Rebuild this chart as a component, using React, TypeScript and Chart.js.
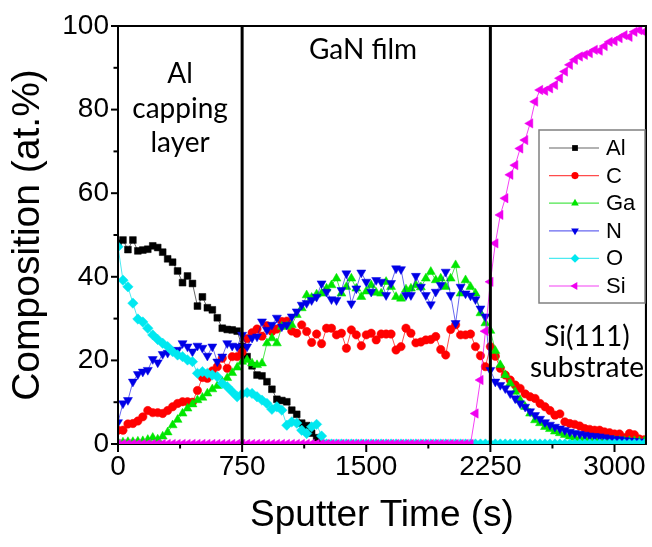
import React, { useEffect, useRef } from "react";
import { Chart, registerables } from "chart.js";

Chart.register(...registerables);

// ---------- DATA ----------
const times = [
  0, 30, 60, 90, 120, 150, 180, 210, 240, 270, 300, 330, 360, 390, 420, 450, 480, 510, 540, 570,
  600, 630, 660, 690, 720, 750, 780, 810, 840, 870, 900, 930, 960, 990, 1020, 1050, 1080, 1110, 1140, 1170,
  1200, 1230, 1260, 1290, 1320, 1350, 1380, 1410, 1440, 1470, 1500, 1530, 1560, 1590, 1620, 1650, 1680, 1710, 1740, 1770,
  1800, 1830, 1860, 1890, 1920, 1950, 1980, 2010, 2040, 2070, 2100, 2130, 2160, 2190, 2220, 2250, 2280, 2310, 2340, 2370,
  2400, 2430, 2460, 2490, 2520, 2550, 2580, 2610, 2640, 2670, 2700, 2730, 2760, 2790, 2820, 2850, 2880, 2910, 2940, 2970,
  3000, 3030, 3060, 3090, 3120, 3150, 3180,
];

const alValues = [
  48.0, 48.8, 46.5, 48.8, 46.2, 46.4, 46.6, 47.4, 47.0, 45.9,
  44.3, 43.5, 41.4, 38.6, 40.2, 38.4, 33.0, 35.2, 32.6, 32.1,
  30.2, 27.7, 27.4, 27.3, 27.0, 23.3, 20.9, 18.7, 16.5, 16.3,
  14.9, 13.1, 10.7, 10.4, 10.1, 8.1, 7.1, 5.0, 4.4, 2.6,
  1.5, 0, 0,
];

const cValues = [
  3.3, 3.3, 4.8, 4.9, 5.5, 6.5, 8.0, 7.5, 7.5, 7.3,
  8.0, 8.9, 9.7, 10.1, 10.1, 10.0, 12.8, 15.9, 15.7, 17.5,
  18.5, 20.5, 18.1, 20.9, 20.9, 22.0, 25.2, 26.6, 27.5, 25.8,
  28.3, 26.9, 27.5, 29.3, 29.4, 27.0, 26.5, 28.5, 26.9, 24.3,
  26.3, 24.0, 27.7, 27.7, 26.1, 26.5, 22.9, 27.3, 26.1, 23.5,
  26.1, 26.5, 24.9, 26.3, 26.3, 26.3, 22.5, 23.3, 27.7, 26.5,
  24.2, 24.4, 24.9, 25.0, 25.7, 22.6, 21.3, 27.4, 28.5, 26.1,
  26.1, 26.3, 23.3, 21.1, 18.5, 23.3, 21.0, 18.1, 16.5, 15.3,
  14.1, 13.3, 12.0, 11.3, 10.9, 9.7, 8.9, 8.0, 6.9, 7.2,
  5.3, 4.9, 4.7, 4.3, 3.7, 3.5, 3.3, 3.3, 2.9, 2.7,
  2.4, 2.4, 1.5, 2.5, 2.2, 1.2, 1.0,
];

const gaValues = [
  0.4, 0.4, 0.5, 0.5, 0.6, 0.7, 1.0, 1.5, 1.1, 1.8,
  2.8, 4.5, 5.8, 7.3, 8.5, 9.5, 10.5, 11.1, 12.1, 13.1,
  13.9, 14.9, 15.8, 17.0, 18.3, 19.7, 20.1, 19.3, 18.9, 19.3,
  24.1, 25.3, 24.1, 28.1, 28.1, 28.5, 30.9, 32.5, 35.6, 35.0,
  35.8, 36.0, 37.2, 38.0, 39.6, 36.0, 37.6, 39.6, 37.2, 35.2,
  36.5, 38.0, 36.2, 36.0, 38.8, 37.6, 35.2, 34.8, 37.0, 37.2,
  38.0, 37.5, 39.6, 41.2, 39.2, 39.6, 37.6, 39.6, 42.8, 36.0,
  39.2, 37.6, 36.0, 31.3, 28.9, 27.1, 22.3, 18.9, 16.5, 14.5,
  12.5, 10.5, 8.9, 7.3, 5.7, 5.0, 4.1, 3.6, 3.0, 2.6,
  2.2, 1.8, 1.5, 1.3, 1.2, 1.1, 1.0, 0.9, 0.9, 0.8,
  0.8, 0.8, 0.7, 0.7, 0.7, 0.6, 0.6,
];

const nValues = [
  5.2, 9.7, 10.5, 14.9, 16.7, 17.3, 17.7, 20.3, 19.5, 21.5,
  21.8, 22.3, 22.5, 24.1, 23.3, 22.1, 23.5, 23.0, 21.1, 23.3,
  19.7, 20.9, 24.1, 23.5, 23.3, 26.1, 23.3, 25.4, 25.7, 29.3,
  27.3, 28.5, 30.2, 28.1, 28.5, 30.5, 31.7, 33.3, 33.7, 34.4,
  35.2, 38.4, 36.4, 34.6, 34.4, 36.8, 40.8, 33.6, 37.2, 41.0,
  38.8, 36.4, 39.2, 38.8, 35.6, 38.5, 42.0, 41.8, 35.6, 35.6,
  40.2, 37.6, 35.6, 33.4, 36.4, 38.0, 41.2, 35.6, 28.9, 37.6,
  36.0, 35.5, 34.6, 32.4, 30.5, 17.7, 14.9, 14.1, 13.3, 12.1,
  10.9, 9.7, 8.9, 7.8, 6.9, 6.0, 5.2, 4.6, 4.1, 3.7,
  3.3, 2.9, 2.6, 2.4, 2.2, 2.0, 1.9, 1.8, 1.6, 1.4,
  1.2, 1.1, 0.9, 0.8, 0.7, 0.6, 0.5,
];

const oValues = [
  47.2, 39.2, 37.6, 33.7, 29.9, 29.2, 27.7, 26.1, 25.0, 24.1,
  23.3, 22.1, 21.3, 20.9, 20.1, 19.7, 16.9, 17.3, 16.9, 16.5,
  16.1, 14.5, 13.7, 12.5, 11.3, 12.0, 12.3, 12.1, 11.3, 10.5,
  9.7, 8.3, 8.9, 8.1, 4.5, 5.3, 5.0, 3.3, 2.5, 4.1,
  4.7, 1.9, 0, 0, 0, 0, 0, 0, 0, 0,
  0, 0, 0, 0, 0, 0, 0, 0, 0, 0,
  0, 0, 0, 0, 0, 0, 0, 0, 0, 0,
  0, 0, 0, 0, 0, 0, 0, 0, 0, 0,
  0, 0, 0, 0, 0, 0, 0, 0, 0, 0,
  0, 0, 0, 0, 0, 0, 0, 0, 0, 0,
  0, 0, 0, 0, 0, 0, 0,
];

const siValues = [
  0, 0, 0, 0, 0, 0, 0, 0, 0, 0,
  0, 0, 0, 0, 0, 0, 0, 0, 0, 0,
  0, 0, 0, 0, 0, 0, 0, 0, 0, 0,
  0, 0, 0, 0, 0, 0, 0, 0, 0, 0,
  0, 0, 0, 0, 0, 0, 0, 0, 0, 0,
  0, 0, 0, 0, 0, 0, 0, 0, 0, 0,
  0, 0, 0, 0, 0, 0, 0, 0, 0, 0,
  0, 0, 7.3, 15.3, 27.0, 38.8, 48.0, 54.8, 58.8, 64.4,
  66.7, 70.7, 72.7, 76.7, 81.9, 84.7, 84.5, 85.1, 85.9, 87.5,
  89.1, 90.7, 91.9, 92.7, 93.1, 93.5, 94.3, 94.1, 95.2, 96.2,
  96.4, 97.1, 97.8, 97.4, 98.6, 99.0, 98.6,
];

const seriesNames = ["Al", "C", "Ga", "N", "O", "Si"];
const seriesValues = [alValues, cValues, gaValues, nValues, oValues, siValues];

const xMajorTicks = [0, 750, 1500, 2250, 3000];
const xMinorTicks = [375, 1125, 1875, 2625];
const yMajorTicks = [0, 20, 40, 60, 80, 100];
const yMinorTicks = [10, 30, 50, 70, 90];
const regionBoundaries = [750, 2250];

// ---------- STYLE ----------
const SANS = '"Liberation Sans", Arial, Helvetica, sans-serif';
const CAL = 'Lato, "Open Sans", sans-serif';

const seriesStyles = [
  { color: "#000000", line: "rgba(0,0,0,0.6)", shape: "rect", rotation: 0, radius: 4.8 },
  { color: "#ff0000", line: "rgba(255,0,0,0.7)", shape: "circle", rotation: 0, radius: 4.2 },
  { color: "#00e600", line: "rgba(0,220,0,0.7)", shape: "triangle", rotation: 0, radius: 5.2 },
  { color: "#0000e6", line: "rgba(0,0,230,0.6)", shape: "triangle", rotation: 180, radius: 5.2 },
  { color: "#00e8f0", line: "rgba(0,225,235,0.7)", shape: "rectRot", rotation: 0, radius: 5.2 },
  { color: "#f000f0", line: "rgba(240,0,240,0.75)", shape: "triangle", rotation: 270, radius: 5.4 },
];

function drawMarker(ctx: CanvasRenderingContext2D, st: any, x: number, y: number, r: number) {
  ctx.fillStyle = st.color;
  ctx.beginPath();
  if (st.shape === "rect") {
    const s = r * Math.SQRT2;
    ctx.rect(x - s / 2, y - s / 2, s, s);
  } else if (st.shape === "circle") {
    ctx.arc(x, y, r, 0, Math.PI * 2);
  } else if (st.shape === "rectRot") {
    ctx.moveTo(x, y - r);
    ctx.lineTo(x + r, y);
    ctx.lineTo(x, y + r);
    ctx.lineTo(x - r, y);
    ctx.closePath();
  } else {
    let a = (st.rotation * Math.PI) / 180;
    for (let k = 0; k < 3; k++) {
      const px = x + Math.sin(a) * r;
      const py = y - Math.cos(a) * r;
      if (k === 0) ctx.moveTo(px, py);
      else ctx.lineTo(px, py);
      a += (2 * Math.PI) / 3;
    }
    ctx.closePath();
  }
  ctx.fill();
}

export default function App() {
  const ref = useRef<HTMLCanvasElement>(null);

  useEffect(() => {
    const canvas = ref.current;
    if (!canvas) return;

    const datasets = seriesValues.map((vals, idx) => {
      const st = seriesStyles[idx];
      return {
        label: seriesNames[idx],
        data: vals.map((v, i) => ({ x: times[i], y: v })),
        borderColor: st.line,
        backgroundColor: st.color,
        borderWidth: 1,
        pointStyle: st.shape,
        pointRotation: st.rotation,
        pointRadius: st.radius,
        pointBackgroundColor: st.color,
        pointBorderColor: st.color,
        pointBorderWidth: 0.5,
        tension: 0,
        fill: false,
        clip: 0,
        order: seriesNames.length - idx,
      };
    });

    const decorPlugin = {
      id: "decor",
      beforeDatasetsDraw(chart: any) {
        const { ctx, chartArea: a, scales } = chart;
        const xs = scales.x;
        const ys = scales.y;
        ctx.save();
        ctx.strokeStyle = "#000";
        // frame
        ctx.lineWidth = 2;
        ctx.strokeRect(a.left, a.top, a.right - a.left, a.bottom - a.top);
        // tick marks
        const tick = (x1: number, y1: number, x2: number, y2: number) => {
          ctx.beginPath();
          ctx.moveTo(x1, y1);
          ctx.lineTo(x2, y2);
          ctx.stroke();
        };
        for (const v of xMajorTicks) {
          const px = xs.getPixelForValue(v);
          tick(px, a.bottom, px, a.bottom + 8);
        }
        for (const v of xMinorTicks) {
          const px = xs.getPixelForValue(v);
          tick(px, a.bottom, px, a.bottom + 4.5);
        }
        for (const v of yMajorTicks) {
          const py = ys.getPixelForValue(v);
          tick(a.left, py, a.left - 7, py);
        }
        for (const v of yMinorTicks) {
          const py = ys.getPixelForValue(v);
          tick(a.left, py, a.left - 4.5, py);
        }
        ctx.restore();
      },
      afterDatasetsDraw(chart: any) {
        const { ctx, chartArea: a, scales } = chart;
        const xs = scales.x;
        ctx.save();

        // region boundaries
        ctx.strokeStyle = "#000";
        ctx.lineWidth = 3;
        for (const b of regionBoundaries) {
          const px = xs.getPixelForValue(b);
          ctx.beginPath();
          ctx.moveTo(px, a.top);
          ctx.lineTo(px, a.bottom);
          ctx.stroke();
        }
        // left / top / right edges over data
        ctx.lineWidth = 2;
        ctx.beginPath();
        ctx.moveTo(a.left, a.bottom);
        ctx.lineTo(a.left, a.top);
        ctx.lineTo(a.right, a.top);
        ctx.lineTo(a.right, a.bottom);
        ctx.stroke();

        // region annotations
        ctx.fillStyle = "#000";
        ctx.textAlign = "center";
        ctx.textBaseline = "alphabetic";
        ctx.font = `28px ${CAL}`;
        const alX = xs.getPixelForValue(375);
        ctx.fillText("Al", alX, a.top + 57);
        ctx.fillText("capping", alX, a.top + 92);
        ctx.fillText("layer", alX, a.top + 126);
        ctx.fillText("GaN film", 363, a.top + 33);
        ctx.fillText("Si(111)", 587, a.top + 320);
        ctx.fillText("substrate", 587, a.top + 351);

        // legend
        const lx = 539, ly = 130, lw = 106, lh = 173;
        ctx.fillStyle = "#fff";
        ctx.fillRect(lx, ly, lw, lh);
        ctx.strokeStyle = "#808080";
        ctx.lineWidth = 1.5;
        ctx.strokeRect(lx, ly, lw, lh);
        ctx.font = `22px ${SANS}`;
        ctx.textAlign = "left";
        ctx.textBaseline = "middle";
        seriesNames.forEach((name, i) => {
          const st = seriesStyles[i];
          const yy = 148 + i * 27.6;
          ctx.strokeStyle = st.line;
          ctx.lineWidth = 1.2;
          ctx.beginPath();
          ctx.moveTo(549, yy);
          ctx.lineTo(599, yy);
          ctx.stroke();
          drawMarker(ctx, st, 575, yy, st.radius * 0.85);
          ctx.fillStyle = "#000";
          ctx.fillText(name, 606, yy + 1);
        });

        ctx.restore();
      },
    };

    const chart = new Chart(canvas, {
      type: "line",
      data: { datasets: datasets as any },
      options: {
        animation: false,
        responsive: false,
        devicePixelRatio: 1,
        layout: { padding: { left: 0, right: 3, top: 26, bottom: 0 } },
        plugins: { legend: { display: false }, tooltip: { enabled: false } },
        scales: {
          x: {
            type: "linear",
            position: "bottom",
            min: 0,
            max: 3190,
            grid: { display: false, drawTicks: false },
            border: { display: false },
            afterBuildTicks: (s: any) => {
              s.ticks = xMajorTicks.map((v) => ({ value: v }));
            },
            afterFit: (s: any) => {
              s.height = 103;
            },
            ticks: {
              color: "#000",
              font: { family: SANS, size: 28 },
              padding: 6,
              maxRotation: 0,
              autoSkip: false,
              callback: (v: any) => String(v),
            },
            title: {
              display: true,
              text: "Sputter Time (s)",
              color: "#000",
              font: { family: SANS, size: 37 },
              padding: { top: 0, bottom: 9 },
            },
          },
          y: {
            type: "linear",
            min: 0,
            max: 100,
            grid: { display: false, drawTicks: false },
            border: { display: false },
            afterBuildTicks: (s: any) => {
              s.ticks = yMajorTicks.map((v) => ({ value: v }));
            },
            afterFit: (s: any) => {
              s.width = 118;
            },
            ticks: {
              color: "#000",
              font: { family: SANS, size: 28 },
              padding: 9,
              autoSkip: false,
              callback: (v: any) => String(v),
            },
            title: {
              display: true,
              text: "Composition (at.%)",
              color: "#000",
              font: { family: SANS, size: 39 },
              padding: { top: 5, bottom: 0 },
            },
          },
        },
      } as any,
      plugins: [decorPlugin],
    });

    return () => chart.destroy();
  }, []);

  return (
    <div style={{ position: "fixed", left: 0, top: 0, width: 652, height: 547, background: "#fff" }}>
      <canvas ref={ref} width={652} height={547} style={{ display: "block", width: 652, height: 547 }} />
    </div>
  );
}
